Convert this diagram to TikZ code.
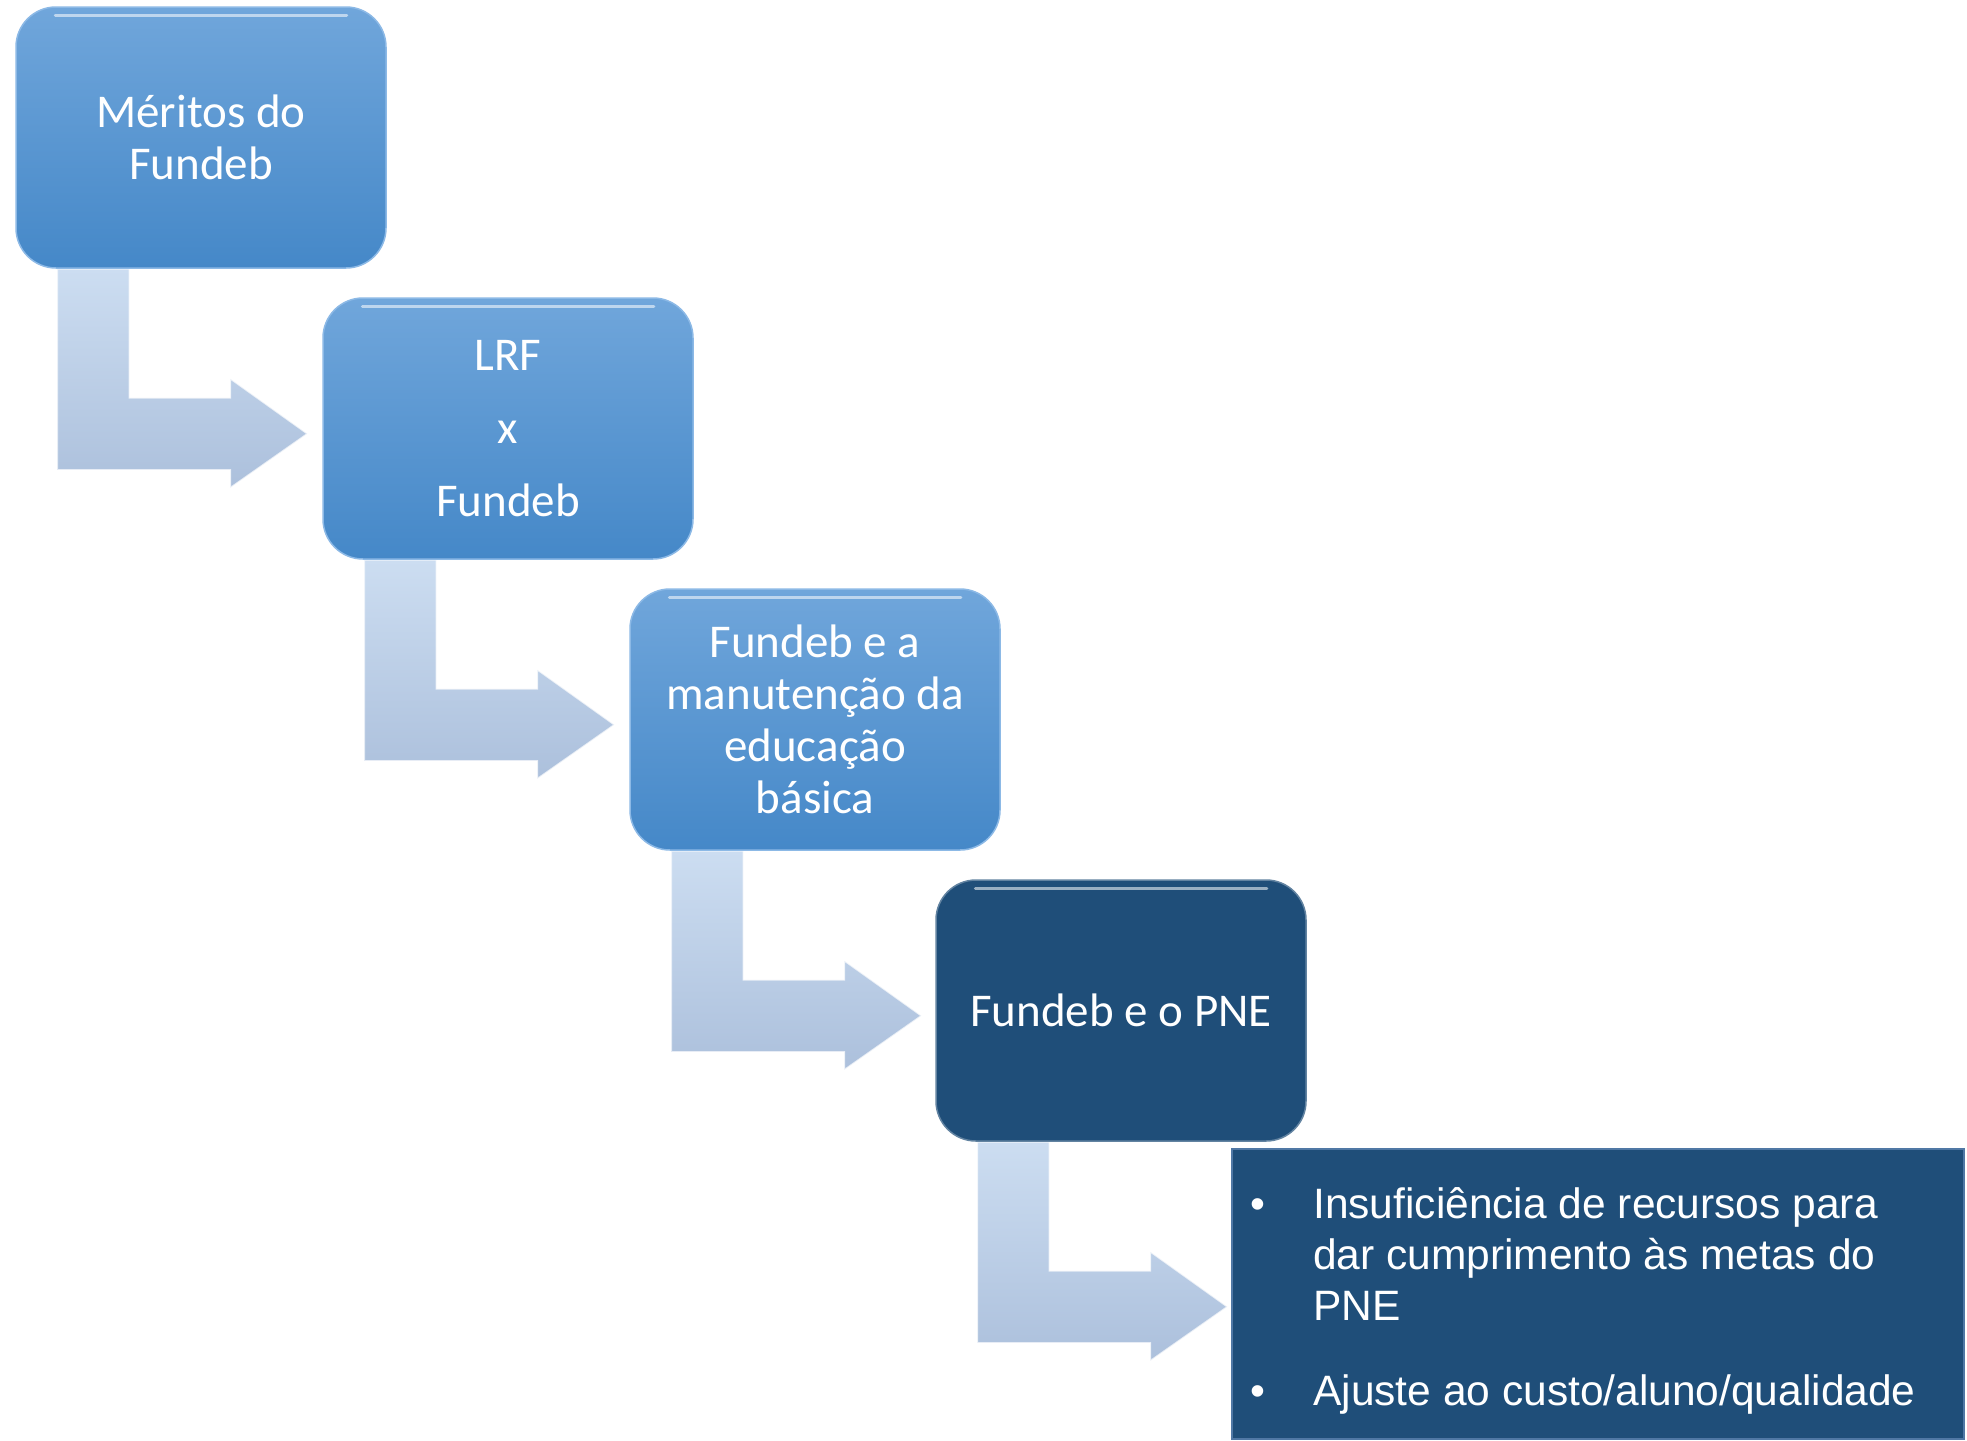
\documentclass[tikz,border=0pt]{standalone}
\usepackage{fontspec}
\setmainfont{Carlito}
\newfontfamily\arialfont{Liberation Sans}
\usetikzlibrary{calc,backgrounds}
\definecolor{boxtop}{RGB}{112,166,219}
\definecolor{boxbot}{RGB}{69,136,200}
\definecolor{darkbox}{RGB}{31,78,121}
\definecolor{arrtop}{RGB}{204,221,241}
\definecolor{arrbot}{RGB}{172,192,220}
\definecolor{boxedge}{RGB}{140,185,230}
\definecolor{listedge}{RGB}{80,120,165}
\tikzset{
 stepbox/.style={rounded corners=40pt, minimum width=370pt, minimum height=261pt, inner sep=0pt, align=center, text=white, font=\fontsize{47}{52}\selectfont, draw=boxedge, line width=1.5pt},
 lightbox/.style={stepbox, top color=boxtop, bottom color=boxbot},
 darkstep/.style={stepbox, fill=darkbox, draw=darkbox!70!white},
 listbox/.style={rectangle, fill=darkbox, draw=listedge, line width=2pt, minimum width=732pt, minimum height=290pt, inner sep=0pt},
 bentarrow/.style={top color=arrtop, bottom color=arrbot, draw=white, draw opacity=0.7, line width=1.5pt, line join=miter},
 listline/.style={anchor=base west, inner sep=0pt, text=white, font=\arialfont\fontsize{42.5}{51}\selectfont},
 gloss/.style={white, opacity=.55, line width=3pt, line cap=round},
}
\newcommand\bentarr[1]{%
 \path[bentarrow] ($(#1.south west)+(42,0)$) -- ($(#1.south west)+(42,201)$) -- ($(#1.south west)+(215,201)$) -- ($(#1.south west)+(215,219)$) -- ($(#1.south west)+(292,165)$) -- ($(#1.south west)+(215,110)$) -- ($(#1.south west)+(215,129)$) -- ($(#1.south west)+(114,129)$) -- ($(#1.south west)+(114,0)$) -- cycle;}
\begin{document}
\begin{tikzpicture}[x=1pt,y=-1pt]
\useasboundingbox (0,0) rectangle (1967,1440);
\node[lightbox] (b1) at (201,137.5) {Méritos do\\Fundeb};
\node[lightbox, font=\fontsize{47}{73}\selectfont] (b2) at (508,428.5) {LRF\\x\\Fundeb};
\node[lightbox] (b3) at (815,719.5) {Fundeb e a\\manutenção da\\educação\\básica};
\node[darkstep] (b4) at (1121,1010.5) {Fundeb e o PNE};
\node[listbox] (b5) at (1598,1294) {};
\foreach \s in {b1,b2,b3,b4} {
  \draw[gloss] ($(\s.north west)+(40,9)$) -- ($(\s.north east)+(-40,9)$);
}
\node[listline] (d1) at (1250,1218) {•};
\node[listline] (l1) at (1313,1218) {Insuficiência de recursos para};
\node[listline] (l2) at (1313,1269) {dar cumprimento às metas do};
\node[listline] (l3) at (1313,1320) {PNE};
\node[listline] (d2) at (1250,1405) {•};
\node[listline] (l4) at (1313,1405) {Ajuste ao custo/aluno/qualidade};
\begin{pgfonlayer}{background}
\fill[white] (0,0) rectangle (1967,1440);
\foreach \s in {b1,b2,b3,b4} {\bentarr{\s}}
\end{pgfonlayer}
\end{tikzpicture}
\end{document}
